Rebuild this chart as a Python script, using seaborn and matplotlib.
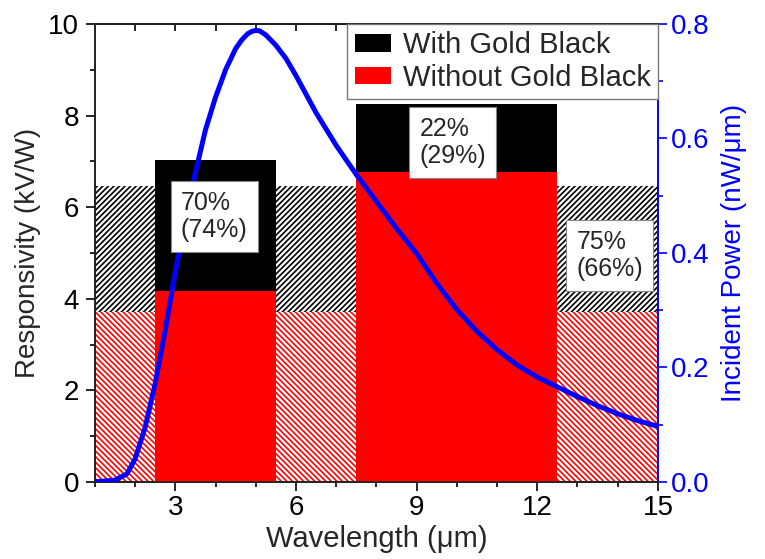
import numpy as np
import matplotlib
matplotlib.use('Agg')
import matplotlib.pyplot as plt
import seaborn as sns
from matplotlib.ticker import MultipleLocator

# Band edges (um) and responsivity (kV/W)
band_lo = [2.5, 7.5]
band_hi = [5.5, 12.5]
resp_with_gb = [7.02, 8.25]
resp_without_gb = [4.16, 6.77]

# Broadband (full range) responsivity shown as hatched background
broad_lo = 1.0
broad_hi = 15.0
broad_with_gb = 6.47
broad_without_gb = 3.70

# Incident power spectrum (nW/um)
wavelength = [1.0, 1.5, 1.8, 2.0, 2.25, 2.5, 2.75, 3.0, 3.25, 3.5, 3.75, 4.0,
              4.25, 4.5, 4.65, 4.8, 4.9, 5.0, 5.1, 5.25, 5.5, 5.75, 6.0, 6.5,
              7.0, 7.5, 8.0, 8.5, 9.0, 9.5, 10.0, 10.5, 11.0, 11.5, 12.0,
              12.5, 13.0, 13.5, 14.0, 14.5, 15.0]
power = [0.0, 0.003, 0.014, 0.040, 0.095, 0.172, 0.265, 0.367, 0.455, 0.540,
         0.615, 0.672, 0.720, 0.757, 0.772, 0.783, 0.787, 0.789, 0.788, 0.781,
         0.763, 0.740, 0.710, 0.645, 0.588, 0.537, 0.490, 0.443, 0.399, 0.347,
         0.301, 0.263, 0.231, 0.204, 0.183, 0.166, 0.149, 0.133, 0.119, 0.107,
         0.097]

# Percent change labels: with gold black (without gold black)
pct_labels = ['70%\n(74%)', '22%\n(29%)', '75%\n(66%)']
label_x = [3.97, 9.9, 13.8]
label_y = [5.8, 7.42, 4.94]

sns.set_theme(style='ticks')
plt.rcParams['font.family'] = ['Liberation Sans', 'DejaVu Sans']
plt.rcParams['hatch.linewidth'] = 1.2
plt.rcParams['axes.linewidth'] = 1.2

FS = 20

fig = plt.figure(figsize=(7.65, 5.59), dpi=100)
ax = fig.add_axes([0.124, 0.138, 0.736, 0.819])

# hatched broadband background
ax.bar(broad_lo, broad_without_gb, width=broad_hi - broad_lo, align='edge',
       color='white', edgecolor='red', hatch='\\' * 6, linewidth=0, zorder=1)
ax.bar(broad_lo, broad_with_gb - broad_without_gb, bottom=broad_without_gb,
       width=broad_hi - broad_lo, align='edge', color='white',
       edgecolor='black', hatch='/' * 6, linewidth=0, zorder=1)

centers = [(a + b) / 2 for a, b in zip(band_lo, band_hi)]
widths = [b - a for a, b in zip(band_lo, band_hi)]
h1 = ax.bar(centers, resp_with_gb, width=widths, color='black', linewidth=0,
            zorder=2, label='With Gold Black')
h2 = ax.bar(centers, resp_without_gb, width=widths, color='#ff0000',
            linewidth=0, zorder=3, label='Without Gold Black')

ax.set_xlim(1, 15)
ax.set_ylim(0, 10)
ax.set_xticks([3, 6, 9, 12, 15])
ax.xaxis.set_minor_locator(MultipleLocator(1))
ax.yaxis.set_major_locator(MultipleLocator(2))
ax.yaxis.set_minor_locator(MultipleLocator(1))
ax.tick_params(axis='both', which='major', direction='out', length=6.5,
               width=1.2, labelsize=FS, color='black', labelcolor='black')
ax.tick_params(axis='both', which='minor', direction='out', length=3.8,
               width=1.2, color='black')
ax.tick_params(axis='y', pad=5)
ax.tick_params(axis='x', pad=3)
ax.set_xlabel('Wavelength (μm)', fontsize=FS + 1, labelpad=3)
ax.set_ylabel('Responsivity (kV/W)', fontsize=FS, labelpad=5)
for s in ['left', 'bottom', 'top']:
    ax.spines[s].set_color('black')
ax.spines['right'].set_color('blue')

top = ax.secondary_xaxis('top')
top.set_xticks(list(range(2, 16)))
top.tick_params(direction='in', length=5, width=1.2, labeltop=False,
                color='black')
top.spines['top'].set_color('black')

ax2 = ax.twinx()
sns.lineplot(x=wavelength, y=power, ax=ax2, color='#0000ff', linewidth=3.6,
             zorder=5)
ax2.lines[-1].set_solid_joinstyle('round')
ax2.set_ylim(0, 0.8)
ax2.set_xlim(1, 15)
ax2.yaxis.set_minor_locator(MultipleLocator(0.1))
ax2.set_yticks([0.0, 0.2, 0.4, 0.6, 0.8])
ax2.set_yticklabels(['0.0', '0.2', '0.4', '0.6', '0.8'])
ax2.tick_params(axis='y', which='major', direction='out', length=6.5,
                width=1.2, colors='#0000ff', labelsize=FS, pad=3)
ax2.tick_params(axis='y', which='minor', direction='out', length=3.8,
                width=1.2, colors='#0000ff')
ax2.set_ylabel('Incident Power (nW/μm)', fontsize=FS, color='#0000ff',
               labelpad=8)
ax2.spines['right'].set_color('#0000ff')
ax2.spines['right'].set_linewidth(1.2)

for txt, x, y in zip(pct_labels, label_x, label_y):
    ax2.text(x, ax2.transData.inverted().transform(
                 ax.transData.transform((x, y)))[1],
             txt, fontsize=18, ha='center', va='center', ma='left',
             zorder=10, linespacing=1.15,
             bbox=dict(boxstyle='square,pad=0.4', facecolor='white',
                       edgecolor='#888888', linewidth=0.8))

leg = ax2.legend(handles=[h1, h2], loc='upper right', fontsize=FS + 1,
                 borderaxespad=0, fancybox=False, edgecolor='#777777',
                 framealpha=1, handlelength=1.25, handleheight=0.55,
                 handletextpad=0.4, labelspacing=0.15, borderpad=0.25)
leg.get_frame().set_linewidth(1.0)
leg.set_zorder(20)

fig.savefig('out.png', dpi=100)
